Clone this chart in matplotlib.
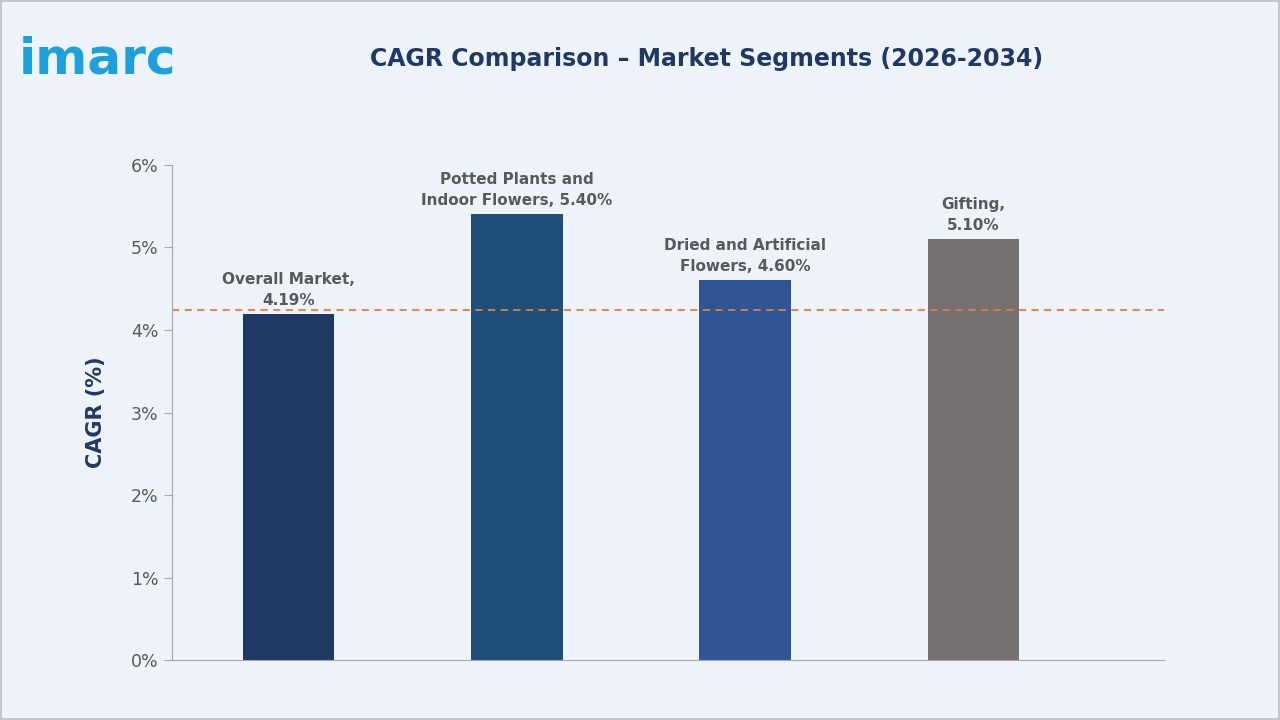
import matplotlib.pyplot as plt
from matplotlib.ticker import FuncFormatter

segments = ["Overall Market", "Potted Plants and\nIndoor Flowers", "Dried and Artificial\nFlowers", "Gifting"]
cagr = [4.19, 5.40, 4.60, 5.10]
labels = ["Overall Market,\n4.19%", "Potted Plants and\nIndoor Flowers, 5.40%", "Dried and Artificial\nFlowers, 4.60%", "Gifting,\n5.10%"]
colors = ["#203864", "#1f4e79", "#2f5597", "#767171"]
ref_line = 4.24

bg = "#eef2f9"
fig = plt.figure(figsize=(12.8, 7.2), dpi=100, facecolor=bg)
fig.patches.append(plt.Rectangle((0.001, 0.001), 0.998, 0.998, transform=fig.transFigure,
                                 fill=False, edgecolor="#bfbfbf", lw=1.2))
ax = fig.add_axes([0.134, 0.083, 0.775, 0.688], facecolor=bg)

x = range(len(cagr))
ax.bar(x, cagr, width=0.4, color=colors)
for i, (v, t) in enumerate(zip(cagr, labels)):
    ax.text(i, v + 0.08, t, ha="center", va="bottom", fontsize=11,
            fontweight="bold", color="#595959", linespacing=1.5)
ax.axhline(ref_line, color="#ed7d31", ls=(0, (4, 3)), lw=1.3)

ax.set_xlim(-0.513, 3.833)
ax.set_ylim(0, 6)
ax.set_yticks(range(7))
ax.yaxis.set_major_formatter(FuncFormatter(lambda v, p: f"{int(v)}%"))
ax.set_xticks([])
ax.tick_params(axis="y", colors="#595959", labelsize=12.5, length=6, color="#a6a6a6")
for s in ["top", "right"]:
    ax.spines[s].set_visible(False)
for s in ["left", "bottom"]:
    ax.spines[s].set_color("#a6a6a6")
ax.set_ylabel("CAGR (%)", fontsize=15, fontweight="bold", color="#203864", labelpad=18)

fig.text(0.552, 0.918, "CAGR Comparison \u2013 Market Segments (2026-2034)", ha="center", va="center",
         fontsize=17, fontweight="bold", color="#203864")
fig.text(0.015, 0.918, "imarc", ha="left", va="center", fontsize=36, fontweight="bold", color="#1ea0dc")

fig.savefig("out.png", dpi=100, facecolor=bg)
